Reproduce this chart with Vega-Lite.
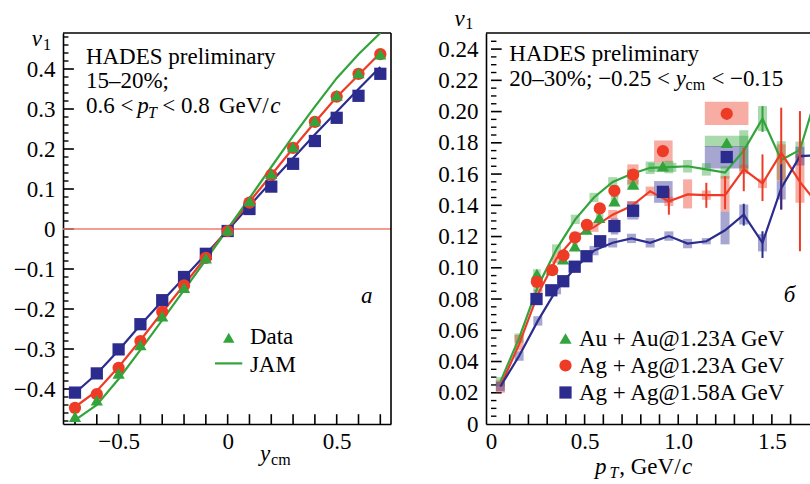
{
  "$schema": "https://vega.github.io/schema/vega-lite/v6.json",
  "background": "white",
  "padding": {"left": 13, "top": 7, "right": 0, "bottom": 0},
  "bounds": "flush",
  "spacing": 95,
  "resolve": {"scale": {"color": "independent", "shape": "independent"}, "legend": {"color": "independent", "shape": "independent"}},
  "config": {
    "view": {"stroke": null},
    "font": "Liberation Serif",
    "axis": {"labelFont": "Liberation Serif", "labelFontSize": 23, "labelColor": "#000", "domainColor": "#000", "domainWidth": 1.6, "grid": false, "labelFlush": false, "labelOverlap": false, "labelBound": false},
    "legend": {"labelFont": "Liberation Serif", "labelFontSize": 23, "labelColor": "#000"},
    "text": {"font": "Liberation Serif", "fontSize": 23, "color": "#000", "align": "left", "baseline": "alphabetic"}
  },
  "datasets": {
    "lxt": [{"v": -0.7, "a": -0.4875, "b": -0.463}, {"v": -0.6, "a": -0.4875, "b": -0.463}, {"v": -0.5, "a": -0.4875, "b": -0.463}, {"v": -0.4, "a": -0.4875, "b": -0.463}, {"v": -0.3, "a": -0.4875, "b": -0.463}, {"v": -0.2, "a": -0.4875, "b": -0.463}, {"v": -0.1, "a": -0.4875, "b": -0.463}, {"v": 0, "a": -0.4875, "b": -0.463}, {"v": 0.1, "a": -0.4875, "b": -0.463}, {"v": 0.2, "a": -0.4875, "b": -0.463}, {"v": 0.3, "a": -0.4875, "b": -0.463}, {"v": 0.4, "a": -0.4875, "b": -0.463}, {"v": 0.5, "a": -0.4875, "b": -0.463}, {"v": 0.6, "a": -0.4875, "b": -0.463}, {"v": 0.7, "a": -0.4875, "b": -0.463}],
    "lyM": [{"v": -0.4, "a": -0.755, "b": -0.705}, {"v": -0.3, "a": -0.755, "b": -0.705}, {"v": -0.2, "a": -0.755, "b": -0.705}, {"v": -0.1, "a": -0.755, "b": -0.705}, {"v": 0, "a": -0.755, "b": -0.705}, {"v": 0.1, "a": -0.755, "b": -0.705}, {"v": 0.2, "a": -0.755, "b": -0.705}, {"v": 0.3, "a": -0.755, "b": -0.705}, {"v": 0.4, "a": -0.755, "b": -0.705}],
    "lym": [{"v": -0.48, "a": -0.755, "b": -0.73}, {"v": -0.46, "a": -0.755, "b": -0.73}, {"v": -0.44, "a": -0.755, "b": -0.73}, {"v": -0.42, "a": -0.755, "b": -0.73}, {"v": -0.38, "a": -0.755, "b": -0.73}, {"v": -0.36, "a": -0.755, "b": -0.73}, {"v": -0.34, "a": -0.755, "b": -0.73}, {"v": -0.32, "a": -0.755, "b": -0.73}, {"v": -0.28, "a": -0.755, "b": -0.73}, {"v": -0.26, "a": -0.755, "b": -0.73}, {"v": -0.24, "a": -0.755, "b": -0.73}, {"v": -0.22, "a": -0.755, "b": -0.73}, {"v": -0.18, "a": -0.755, "b": -0.73}, {"v": -0.16, "a": -0.755, "b": -0.73}, {"v": -0.14, "a": -0.755, "b": -0.73}, {"v": -0.12, "a": -0.755, "b": -0.73}, {"v": -0.08, "a": -0.755, "b": -0.73}, {"v": -0.06, "a": -0.755, "b": -0.73}, {"v": -0.04, "a": -0.755, "b": -0.73}, {"v": -0.02, "a": -0.755, "b": -0.73}, {"v": 0.02, "a": -0.755, "b": -0.73}, {"v": 0.04, "a": -0.755, "b": -0.73}, {"v": 0.06, "a": -0.755, "b": -0.73}, {"v": 0.08, "a": -0.755, "b": -0.73}, {"v": 0.12, "a": -0.755, "b": -0.73}, {"v": 0.14, "a": -0.755, "b": -0.73}, {"v": 0.16, "a": -0.755, "b": -0.73}, {"v": 0.18, "a": -0.755, "b": -0.73}, {"v": 0.22, "a": -0.755, "b": -0.73}, {"v": 0.24, "a": -0.755, "b": -0.73}, {"v": 0.26, "a": -0.755, "b": -0.73}, {"v": 0.28, "a": -0.755, "b": -0.73}, {"v": 0.32, "a": -0.755, "b": -0.73}, {"v": 0.34, "a": -0.755, "b": -0.73}, {"v": 0.36, "a": -0.755, "b": -0.73}, {"v": 0.38, "a": -0.755, "b": -0.73}, {"v": 0.42, "a": -0.755, "b": -0.73}, {"v": 0.44, "a": -0.755, "b": -0.73}, {"v": 0.46, "a": -0.755, "b": -0.73}, {"v": 0.48, "a": -0.755, "b": -0.73}],
    "rxt": [{"v": 0.1, "a": 0, "b": 0.0062}, {"v": 0.2, "a": 0, "b": 0.0062}, {"v": 0.3, "a": 0, "b": 0.0062}, {"v": 0.4, "a": 0, "b": 0.0062}, {"v": 0.5, "a": 0, "b": 0.0062}, {"v": 0.6, "a": 0, "b": 0.0062}, {"v": 0.7, "a": 0, "b": 0.0062}, {"v": 0.8, "a": 0, "b": 0.0062}, {"v": 0.9, "a": 0, "b": 0.0062}, {"v": 1.0, "a": 0, "b": 0.0062}, {"v": 1.1, "a": 0, "b": 0.0062}, {"v": 1.2, "a": 0, "b": 0.0062}, {"v": 1.3, "a": 0, "b": 0.0062}, {"v": 1.4, "a": 0, "b": 0.0062}, {"v": 1.5, "a": 0, "b": 0.0062}, {"v": 1.6, "a": 0, "b": 0.0062}],
    "ryM": [{"v": 0.02, "a": 0, "b": 0.057}, {"v": 0.04, "a": 0, "b": 0.057}, {"v": 0.06, "a": 0, "b": 0.057}, {"v": 0.08, "a": 0, "b": 0.057}, {"v": 0.1, "a": 0, "b": 0.057}, {"v": 0.12, "a": 0, "b": 0.057}, {"v": 0.14, "a": 0, "b": 0.057}, {"v": 0.16, "a": 0, "b": 0.057}, {"v": 0.18, "a": 0, "b": 0.057}, {"v": 0.2, "a": 0, "b": 0.057}, {"v": 0.22, "a": 0, "b": 0.057}, {"v": 0.24, "a": 0, "b": 0.057}],
    "rym": [{"v": 0.005, "a": 0, "b": 0.029}, {"v": 0.01, "a": 0, "b": 0.029}, {"v": 0.015, "a": 0, "b": 0.029}, {"v": 0.025, "a": 0, "b": 0.029}, {"v": 0.03, "a": 0, "b": 0.029}, {"v": 0.035, "a": 0, "b": 0.029}, {"v": 0.045, "a": 0, "b": 0.029}, {"v": 0.05, "a": 0, "b": 0.029}, {"v": 0.055, "a": 0, "b": 0.029}, {"v": 0.065, "a": 0, "b": 0.029}, {"v": 0.07, "a": 0, "b": 0.029}, {"v": 0.075, "a": 0, "b": 0.029}, {"v": 0.085, "a": 0, "b": 0.029}, {"v": 0.09, "a": 0, "b": 0.029}, {"v": 0.095, "a": 0, "b": 0.029}, {"v": 0.105, "a": 0, "b": 0.029}, {"v": 0.11, "a": 0, "b": 0.029}, {"v": 0.115, "a": 0, "b": 0.029}, {"v": 0.125, "a": 0, "b": 0.029}, {"v": 0.13, "a": 0, "b": 0.029}, {"v": 0.135, "a": 0, "b": 0.029}, {"v": 0.145, "a": 0, "b": 0.029}, {"v": 0.15, "a": 0, "b": 0.029}, {"v": 0.155, "a": 0, "b": 0.029}, {"v": 0.165, "a": 0, "b": 0.029}, {"v": 0.17, "a": 0, "b": 0.029}, {"v": 0.175, "a": 0, "b": 0.029}, {"v": 0.185, "a": 0, "b": 0.029}, {"v": 0.19, "a": 0, "b": 0.029}, {"v": 0.195, "a": 0, "b": 0.029}, {"v": 0.205, "a": 0, "b": 0.029}, {"v": 0.21, "a": 0, "b": 0.029}, {"v": 0.215, "a": 0, "b": 0.029}, {"v": 0.225, "a": 0, "b": 0.029}, {"v": 0.23, "a": 0, "b": 0.029}, {"v": 0.235, "a": 0, "b": 0.029}, {"v": 0.245, "a": 0, "b": 0.029}],
    "lpts": [
      {"sys": "Ag158", "x": -0.7, "y": -0.409}, {"sys": "Ag158", "x": -0.6, "y": -0.361}, {"sys": "Ag158", "x": -0.5, "y": -0.301}, {"sys": "Ag158", "x": -0.4, "y": -0.238}, {"sys": "Ag158", "x": -0.3, "y": -0.178}, {"sys": "Ag158", "x": -0.2, "y": -0.12}, {"sys": "Ag158", "x": -0.1, "y": -0.062}, {"sys": "Ag158", "x": 0, "y": -0.005}, {"sys": "Ag158", "x": 0.1, "y": 0.05}, {"sys": "Ag158", "x": 0.2, "y": 0.106}, {"sys": "Ag158", "x": 0.3, "y": 0.163}, {"sys": "Ag158", "x": 0.4, "y": 0.22}, {"sys": "Ag158", "x": 0.5, "y": 0.278}, {"sys": "Ag158", "x": 0.6, "y": 0.333}, {"sys": "Ag158", "x": 0.7, "y": 0.388},
      {"sys": "Ag123", "x": -0.7, "y": -0.447}, {"sys": "Ag123", "x": -0.6, "y": -0.413}, {"sys": "Ag123", "x": -0.5, "y": -0.347}, {"sys": "Ag123", "x": -0.4, "y": -0.28}, {"sys": "Ag123", "x": -0.3, "y": -0.207}, {"sys": "Ag123", "x": -0.2, "y": -0.141}, {"sys": "Ag123", "x": -0.1, "y": -0.072}, {"sys": "Ag123", "x": 0, "y": -0.005}, {"sys": "Ag123", "x": 0.1, "y": 0.066}, {"sys": "Ag123", "x": 0.2, "y": 0.135}, {"sys": "Ag123", "x": 0.3, "y": 0.203}, {"sys": "Ag123", "x": 0.4, "y": 0.268}, {"sys": "Ag123", "x": 0.5, "y": 0.331}, {"sys": "Ag123", "x": 0.6, "y": 0.388}, {"sys": "Ag123", "x": 0.7, "y": 0.437},
      {"sys": "Au123", "x": -0.7, "y": -0.469}, {"sys": "Au123", "x": -0.6, "y": -0.428}, {"sys": "Au123", "x": -0.5, "y": -0.361}, {"sys": "Au123", "x": -0.4, "y": -0.29}, {"sys": "Au123", "x": -0.3, "y": -0.218}, {"sys": "Au123", "x": -0.2, "y": -0.147}, {"sys": "Au123", "x": -0.1, "y": -0.073}, {"sys": "Au123", "x": 0, "y": -0.003}, {"sys": "Au123", "x": 0.1, "y": 0.07}, {"sys": "Au123", "x": 0.2, "y": 0.138}, {"sys": "Au123", "x": 0.3, "y": 0.205}, {"sys": "Au123", "x": 0.4, "y": 0.27}, {"sys": "Au123", "x": 0.5, "y": 0.334}, {"sys": "Au123", "x": 0.6, "y": 0.39}, {"sys": "Au123", "x": 0.7, "y": 0.437}
    ],
    "ljam": [
      {"sys": "Ag158", "x": -0.7, "y": -0.41}, {"sys": "Ag158", "x": -0.6, "y": -0.362}, {"sys": "Ag158", "x": -0.5, "y": -0.303}, {"sys": "Ag158", "x": -0.4, "y": -0.24}, {"sys": "Ag158", "x": -0.3, "y": -0.18}, {"sys": "Ag158", "x": -0.2, "y": -0.122}, {"sys": "Ag158", "x": -0.1, "y": -0.063}, {"sys": "Ag158", "x": 0, "y": -0.003}, {"sys": "Ag158", "x": 0.1, "y": 0.058}, {"sys": "Ag158", "x": 0.2, "y": 0.118}, {"sys": "Ag158", "x": 0.3, "y": 0.177}, {"sys": "Ag158", "x": 0.4, "y": 0.236}, {"sys": "Ag158", "x": 0.5, "y": 0.293}, {"sys": "Ag158", "x": 0.6, "y": 0.35}, {"sys": "Ag158", "x": 0.7, "y": 0.405},
      {"sys": "Ag123", "x": -0.7, "y": -0.445}, {"sys": "Ag123", "x": -0.6, "y": -0.405}, {"sys": "Ag123", "x": -0.5, "y": -0.345}, {"sys": "Ag123", "x": -0.4, "y": -0.278}, {"sys": "Ag123", "x": -0.3, "y": -0.208}, {"sys": "Ag123", "x": -0.2, "y": -0.14}, {"sys": "Ag123", "x": -0.1, "y": -0.07}, {"sys": "Ag123", "x": 0, "y": 0}, {"sys": "Ag123", "x": 0.1, "y": 0.068}, {"sys": "Ag123", "x": 0.2, "y": 0.135}, {"sys": "Ag123", "x": 0.3, "y": 0.202}, {"sys": "Ag123", "x": 0.4, "y": 0.267}, {"sys": "Ag123", "x": 0.5, "y": 0.33}, {"sys": "Ag123", "x": 0.6, "y": 0.385}, {"sys": "Ag123", "x": 0.7, "y": 0.44},
      {"sys": "Au123", "x": -0.7, "y": -0.478}, {"sys": "Au123", "x": -0.6, "y": -0.44}, {"sys": "Au123", "x": -0.5, "y": -0.375}, {"sys": "Au123", "x": -0.4, "y": -0.302}, {"sys": "Au123", "x": -0.3, "y": -0.228}, {"sys": "Au123", "x": -0.2, "y": -0.153}, {"sys": "Au123", "x": -0.1, "y": -0.077}, {"sys": "Au123", "x": 0, "y": 0}, {"sys": "Au123", "x": 0.1, "y": 0.077}, {"sys": "Au123", "x": 0.2, "y": 0.155}, {"sys": "Au123", "x": 0.3, "y": 0.232}, {"sys": "Au123", "x": 0.4, "y": 0.306}, {"sys": "Au123", "x": 0.5, "y": 0.377}, {"sys": "Au123", "x": 0.6, "y": 0.437}, {"sys": "Au123", "x": 0.7, "y": 0.49}
    ],
    "rpts": [
      {"sys": "Au123", "x": 0.245, "y": 0.096, "x0": 0.225, "x1": 0.265, "lo": 0.093, "hi": 0.099},
      {"sys": "Au123", "x": 0.325, "y": 0.099, "x0": 0.31, "x1": 0.34, "lo": 0.096, "hi": 0.102},
      {"sys": "Au123", "x": 0.385, "y": 0.1055, "x0": 0.37, "x1": 0.4, "lo": 0.1025, "hi": 0.1085},
      {"sys": "Au123", "x": 0.448, "y": 0.1138, "x0": 0.433, "x1": 0.463, "lo": 0.111, "hi": 0.117},
      {"sys": "Au123", "x": 0.51, "y": 0.1245, "x0": 0.495, "x1": 0.525, "lo": 0.1215, "hi": 0.1275},
      {"sys": "Au123", "x": 0.578, "y": 0.132, "x0": 0.56, "x1": 0.6, "lo": 0.129, "hi": 0.135},
      {"sys": "Au123", "x": 0.659, "y": 0.1427, "x0": 0.64, "x1": 0.68, "lo": 0.1395, "hi": 0.146},
      {"sys": "Au123", "x": 0.759, "y": 0.1534, "x0": 0.728, "x1": 0.788, "lo": 0.1505, "hi": 0.1565},
      {"sys": "Au123", "x": 0.918, "y": 0.1651, "x0": 0.84, "x1": 0.99, "lo": 0.1614, "hi": 0.1672},
      {"sys": "Au123", "x": 1.259, "y": 0.18, "x0": 1.142, "x1": 1.375, "lo": 0.1775, "hi": 0.1845},
      {"sys": "Ag158", "x": 0.243, "y": 0.08, "x0": 0.225, "x1": 0.265, "lo": 0.077, "hi": 0.083},
      {"sys": "Ag158", "x": 0.322, "y": 0.0856, "x0": 0.307, "x1": 0.337, "lo": 0.0826, "hi": 0.0886},
      {"sys": "Ag158", "x": 0.386, "y": 0.0914, "x0": 0.371, "x1": 0.401, "lo": 0.0884, "hi": 0.0944},
      {"sys": "Ag158", "x": 0.447, "y": 0.1007, "x0": 0.432, "x1": 0.462, "lo": 0.0977, "hi": 0.1037},
      {"sys": "Ag158", "x": 0.51, "y": 0.1074, "x0": 0.495, "x1": 0.525, "lo": 0.1044, "hi": 0.1104},
      {"sys": "Ag158", "x": 0.583, "y": 0.117, "x0": 0.565, "x1": 0.6, "lo": 0.114, "hi": 0.12},
      {"sys": "Ag158", "x": 0.659, "y": 0.1267, "x0": 0.64, "x1": 0.68, "lo": 0.1213, "hi": 0.1316},
      {"sys": "Ag158", "x": 0.759, "y": 0.1365, "x0": 0.728, "x1": 0.788, "lo": 0.1309, "hi": 0.1426},
      {"sys": "Ag158", "x": 0.918, "y": 0.1486, "x0": 0.871, "x1": 0.97, "lo": 0.1416, "hi": 0.1555},
      {"sys": "Ag158", "x": 1.259, "y": 0.1709, "x0": 1.142, "x1": 1.375, "lo": 0.1636, "hi": 0.1779},
      {"sys": "Ag123", "x": 0.245, "y": 0.091, "x0": 0.225, "x1": 0.265, "lo": 0.088, "hi": 0.094},
      {"sys": "Ag123", "x": 0.327, "y": 0.0985, "x0": 0.312, "x1": 0.342, "lo": 0.0955, "hi": 0.1015},
      {"sys": "Ag123", "x": 0.387, "y": 0.108, "x0": 0.372, "x1": 0.402, "lo": 0.105, "hi": 0.111},
      {"sys": "Ag123", "x": 0.449, "y": 0.1194, "x0": 0.434, "x1": 0.464, "lo": 0.1164, "hi": 0.1224},
      {"sys": "Ag123", "x": 0.512, "y": 0.1275, "x0": 0.497, "x1": 0.527, "lo": 0.1245, "hi": 0.1305},
      {"sys": "Ag123", "x": 0.581, "y": 0.138, "x0": 0.563, "x1": 0.6, "lo": 0.135, "hi": 0.141},
      {"sys": "Ag123", "x": 0.659, "y": 0.1493, "x0": 0.64, "x1": 0.68, "lo": 0.1455, "hi": 0.153},
      {"sys": "Ag123", "x": 0.759, "y": 0.1596, "x0": 0.728, "x1": 0.788, "lo": 0.1534, "hi": 0.1662},
      {"sys": "Ag123", "x": 0.918, "y": 0.1747, "x0": 0.871, "x1": 0.97, "lo": 0.1672, "hi": 0.1815},
      {"sys": "Ag123", "x": 1.259, "y": 0.1986, "x0": 1.142, "x1": 1.375, "lo": 0.1914, "hi": 0.2063}
    ],
    "rjam": [
      {"sys": "Au123", "x": 0.05, "y": 0.027, "lo": 0.024, "hi": 0.03}, {"sys": "Au123", "x": 0.15, "y": 0.055, "lo": 0.052, "hi": 0.058}, {"sys": "Au123", "x": 0.25, "y": 0.088, "lo": 0.085, "hi": 0.091}, {"sys": "Au123", "x": 0.35, "y": 0.112, "lo": 0.109, "hi": 0.115}, {"sys": "Au123", "x": 0.45, "y": 0.131, "lo": 0.128, "hi": 0.134}, {"sys": "Au123", "x": 0.55, "y": 0.145, "lo": 0.142, "hi": 0.148}, {"sys": "Au123", "x": 0.65, "y": 0.155, "lo": 0.152, "hi": 0.158}, {"sys": "Au123", "x": 0.75, "y": 0.16, "lo": 0.157, "hi": 0.163}, {"sys": "Au123", "x": 0.85, "y": 0.164, "lo": 0.16, "hi": 0.168}, {"sys": "Au123", "x": 0.95, "y": 0.1645, "lo": 0.1605, "hi": 0.1685}, {"sys": "Au123", "x": 1.05, "y": 0.165, "lo": 0.161, "hi": 0.169}, {"sys": "Au123", "x": 1.15, "y": 0.163, "lo": 0.159, "hi": 0.167}, {"sys": "Au123", "x": 1.25, "y": 0.161, "lo": 0.157, "hi": 0.165}, {"sys": "Au123", "x": 1.35, "y": 0.175, "lo": 0.162, "hi": 0.188}, {"sys": "Au123", "x": 1.45, "y": 0.1955, "lo": 0.1875, "hi": 0.2035}, {"sys": "Au123", "x": 1.55, "y": 0.169, "lo": 0.156, "hi": 0.181}, {"sys": "Au123", "x": 1.65, "y": 0.1755, "lo": 0.1702, "hi": 0.1808}, {"sys": "Au123", "x": 1.75, "y": 0.215, "lo": 0.205, "hi": 0.225},
      {"sys": "Ag123", "x": 0.05, "y": 0.024, "lo": 0.02, "hi": 0.028}, {"sys": "Ag123", "x": 0.15, "y": 0.051, "lo": 0.047, "hi": 0.057}, {"sys": "Ag123", "x": 0.25, "y": 0.083, "lo": 0.08, "hi": 0.086}, {"sys": "Ag123", "x": 0.35, "y": 0.106, "lo": 0.103, "hi": 0.109}, {"sys": "Ag123", "x": 0.45, "y": 0.12, "lo": 0.117, "hi": 0.123}, {"sys": "Ag123", "x": 0.55, "y": 0.126, "lo": 0.123, "hi": 0.129}, {"sys": "Ag123", "x": 0.65, "y": 0.134, "lo": 0.131, "hi": 0.137}, {"sys": "Ag123", "x": 0.75, "y": 0.1395, "lo": 0.1365, "hi": 0.1425}, {"sys": "Ag123", "x": 0.85, "y": 0.149, "lo": 0.146, "hi": 0.152}, {"sys": "Ag123", "x": 0.95, "y": 0.1425, "lo": 0.1395, "hi": 0.1455}, {"sys": "Ag123", "x": 1.05, "y": 0.147, "lo": 0.138, "hi": 0.1566}, {"sys": "Ag123", "x": 1.15, "y": 0.1465, "lo": 0.1435, "hi": 0.1495}, {"sys": "Ag123", "x": 1.25, "y": 0.1465, "lo": 0.136, "hi": 0.1587}, {"sys": "Ag123", "x": 1.35, "y": 0.163, "lo": 0.16, "hi": 0.166}, {"sys": "Ag123", "x": 1.45, "y": 0.154, "lo": 0.151, "hi": 0.157}, {"sys": "Ag123", "x": 1.55, "y": 0.1736, "lo": 0.1555, "hi": 0.179}, {"sys": "Ag123", "x": 1.65, "y": 0.155, "lo": 0.1416, "hi": 0.1726}, {"sys": "Ag123", "x": 1.75, "y": 0.14, "lo": 0.13, "hi": 0.15},
      {"sys": "Ag158", "x": 0.05, "y": 0.024, "lo": 0.021, "hi": 0.027}, {"sys": "Ag158", "x": 0.15, "y": 0.0435, "lo": 0.0405, "hi": 0.0465}, {"sys": "Ag158", "x": 0.25, "y": 0.066, "lo": 0.063, "hi": 0.069}, {"sys": "Ag158", "x": 0.35, "y": 0.086, "lo": 0.083, "hi": 0.089}, {"sys": "Ag158", "x": 0.45, "y": 0.1, "lo": 0.097, "hi": 0.103}, {"sys": "Ag158", "x": 0.55, "y": 0.111, "lo": 0.108, "hi": 0.114}, {"sys": "Ag158", "x": 0.65, "y": 0.116, "lo": 0.113, "hi": 0.119}, {"sys": "Ag158", "x": 0.75, "y": 0.1188, "lo": 0.1158, "hi": 0.1218}, {"sys": "Ag158", "x": 0.85, "y": 0.116, "lo": 0.113, "hi": 0.119}, {"sys": "Ag158", "x": 0.95, "y": 0.1203, "lo": 0.1173, "hi": 0.1233}, {"sys": "Ag158", "x": 1.05, "y": 0.1155, "lo": 0.1125, "hi": 0.1185}, {"sys": "Ag158", "x": 1.15, "y": 0.117, "lo": 0.115, "hi": 0.119}, {"sys": "Ag158", "x": 1.25, "y": 0.124, "lo": 0.115, "hi": 0.136}, {"sys": "Ag158", "x": 1.35, "y": 0.134, "lo": 0.1277, "hi": 0.1405}, {"sys": "Ag158", "x": 1.45, "y": 0.116, "lo": 0.1105, "hi": 0.1215}, {"sys": "Ag158", "x": 1.55, "y": 0.151, "lo": 0.1437, "hi": 0.1555}, {"sys": "Ag158", "x": 1.65, "y": 0.1715, "lo": 0.1655, "hi": 0.1775}, {"sys": "Ag158", "x": 1.75, "y": 0.172, "lo": 0.166, "hi": 0.178}
    ],
    "rerr": [
      {"sys": "Au123", "x": 1.45, "lo": 0.187, "hi": 0.2035},
      {"sys": "Ag123", "x": 0.95, "lo": 0.134, "hi": 0.151},
      {"sys": "Ag123", "x": 1.15, "lo": 0.1384, "hi": 0.1544},
      {"sys": "Ag123", "x": 1.25, "lo": 0.1375, "hi": 0.1587},
      {"sys": "Ag123", "x": 1.35, "lo": 0.149, "hi": 0.1768},
      {"sys": "Ag123", "x": 1.45, "lo": 0.1427, "hi": 0.1726},
      {"sys": "Ag123", "x": 1.55, "lo": 0.1373, "hi": 0.2025},
      {"sys": "Ag123", "x": 1.65, "lo": 0.1106, "hi": 0.2003},
      {"sys": "Ag158", "x": 1.35, "lo": 0.127, "hi": 0.141},
      {"sys": "Ag158", "x": 1.45, "lo": 0.1063, "hi": 0.1234},
      {"sys": "Ag158", "x": 1.55, "lo": 0.1373, "hi": 0.1662}
    ]
  },
  "hconcat": [
    {
      "width": 328,
      "height": 391,
      "resolve": {"axis": {"x": "independent", "y": "independent"}},
      "layer": [
        {
          "data": {"name": "lpts"},
          "mark": {"type": "point", "opacity": 0},
          "encoding": {
            "x": {"field": "x", "type": "quantitative", "scale": {"domain": [-0.755, 0.749], "nice": false, "zero": false},
              "axis": {"orient": "bottom", "title": null, "values": [-0.5, 0, 0.5], "labelExpr": "datum.value == 0 ? '0' : format(datum.value, '.1f')", "ticks": false, "tickSize": 0, "labelPadding": 6, "domain": true, "labelOverlap": false}},
            "y": {"field": "y", "type": "quantitative", "scale": {"domain": [-0.4875, 0.49], "nice": false, "zero": false},
              "axis": {"orient": "left", "title": null, "values": [-0.4, -0.3, -0.2, -0.1, 0, 0.1, 0.2, 0.3, 0.4], "labelExpr": "datum.value == 0 ? '0' : format(datum.value, '.1f')", "ticks": false, "tickSize": 0, "labelPadding": 8, "domain": true, "labelOverlap": false}}
          }
        },
        {
          "data": {"name": "lxt"},
          "mark": {"type": "rule", "color": "#000", "strokeWidth": 1.6},
          "encoding": {
            "x": {"field": "v", "type": "quantitative", "scale": {"domain": [-0.755, 0.749], "nice": false, "zero": false}, "axis": null},
            "y": {"field": "a", "type": "quantitative", "scale": {"domain": [-0.4875, 0.49], "nice": false, "zero": false}, "axis": null},
            "y2": {"field": "b"}
          }
        },
        {
          "data": {"name": "lyM"},
          "mark": {"type": "rule", "color": "#000", "strokeWidth": 1.6},
          "encoding": {
            "x": {"field": "a", "type": "quantitative", "scale": {"domain": [-0.755, 0.749], "nice": false, "zero": false}, "axis": null},
            "x2": {"field": "b"},
            "y": {"field": "v", "type": "quantitative", "scale": {"domain": [-0.4875, 0.49], "nice": false, "zero": false}, "axis": null}
          }
        },
        {
          "data": {"name": "lym"},
          "mark": {"type": "rule", "color": "#000", "strokeWidth": 1.4},
          "encoding": {
            "x": {"field": "a", "type": "quantitative", "scale": {"domain": [-0.755, 0.749], "nice": false, "zero": false}, "axis": null},
            "x2": {"field": "b"},
            "y": {"field": "v", "type": "quantitative", "scale": {"domain": [-0.4875, 0.49], "nice": false, "zero": false}, "axis": null}
          }
        },
        {
          "data": {"values": [{}]},
          "mark": {"type": "rule", "color": "#f27b6e", "strokeWidth": 1.6},
          "encoding": {"y": {"datum": 0, "type": "quantitative", "scale": {"domain": [-0.4875, 0.49], "nice": false, "zero": false}, "axis": null}}
        },
        {
          "data": {"values": [{}]},
          "mark": {"type": "rule", "color": "#000", "strokeWidth": 1.6},
          "encoding": {"y": {"datum": 0.49, "type": "quantitative", "scale": {"domain": [-0.4875, 0.49], "nice": false, "zero": false}, "axis": null}}
        },
        {
          "data": {"values": [{}]},
          "mark": {"type": "rule", "color": "#000", "strokeWidth": 1.6},
          "encoding": {"x": {"datum": 0.749, "type": "quantitative", "scale": {"domain": [-0.755, 0.749], "nice": false, "zero": false}, "axis": null}}
        },
        {
          "data": {"name": "ljam"},
          "mark": {"type": "line", "strokeWidth": 2.2, "clip": true},
          "encoding": {
            "x": {"field": "x", "type": "quantitative", "scale": {"domain": [-0.755, 0.749], "nice": false, "zero": false}, "axis": null},
            "y": {"field": "y", "type": "quantitative", "scale": {"domain": [-0.4875, 0.49], "nice": false, "zero": false}, "axis": null},
            "color": {"field": "sys", "type": "nominal", "scale": {"domain": ["Au123", "Ag123", "Ag158"], "range": ["#33a43c", "#ee3b26", "#2b2c8e"]}, "legend": null},
            "detail": {"field": "sys"}
          }
        },
        {
          "data": {"name": "lpts"},
          "mark": {"type": "point", "filled": true, "opacity": 1, "size": 150, "clip": true},
          "encoding": {
            "x": {"field": "x", "type": "quantitative", "scale": {"domain": [-0.755, 0.749], "nice": false, "zero": false}, "axis": null},
            "y": {"field": "y", "type": "quantitative", "scale": {"domain": [-0.4875, 0.49], "nice": false, "zero": false}, "axis": null},
            "color": {"field": "sys", "type": "nominal", "scale": {"domain": ["Au123", "Ag123", "Ag158"], "range": ["#33a43c", "#ee3b26", "#2b2c8e"]}, "legend": null},
            "shape": {"field": "sys", "type": "nominal", "scale": {"domain": ["Au123", "Ag123", "Ag158"], "range": ["triangle-up", "circle", "square"]}, "legend": null}
          }
        },
        {"data": {"values": [{}]}, "mark": {"type": "point", "shape": "triangle-up", "filled": true, "opacity": 1, "size": 130, "color": "#33a43c"},
          "encoding": {"x": {"datum": 0.005, "type": "quantitative", "scale": {"domain": [-0.755, 0.749], "nice": false, "zero": false}, "axis": null}, "y": {"datum": -0.272, "type": "quantitative", "scale": {"domain": [-0.4875, 0.49], "nice": false, "zero": false}, "axis": null}}},
        {"data": {"values": [{}]}, "mark": {"type": "rule", "color": "#33a43c", "strokeWidth": 2.2},
          "encoding": {"x": {"datum": -0.058, "type": "quantitative", "scale": {"domain": [-0.755, 0.749], "nice": false, "zero": false}, "axis": null}, "x2": {"datum": 0.067}, "y": {"datum": -0.336, "type": "quantitative", "scale": {"domain": [-0.4875, 0.49], "nice": false, "zero": false}, "axis": null}}},
        {"data": {"values": [{}]}, "mark": {"type": "text"},
          "encoding": {"x": {"datum": 0.102, "type": "quantitative", "scale": {"domain": [-0.755, 0.749], "nice": false, "zero": false}, "axis": null}, "y": {"datum": -0.288, "type": "quantitative", "scale": {"domain": [-0.4875, 0.49], "nice": false, "zero": false}, "axis": null}, "text": {"value": "Data"}}},
        {"data": {"values": [{}]}, "mark": {"type": "text"},
          "encoding": {"x": {"datum": 0.102, "type": "quantitative", "scale": {"domain": [-0.755, 0.749], "nice": false, "zero": false}, "axis": null}, "y": {"datum": -0.357, "type": "quantitative", "scale": {"domain": [-0.4875, 0.49], "nice": false, "zero": false}, "axis": null}, "text": {"value": "JAM"}}},
        {"data": {"values": [{}]}, "mark": {"type": "text"},
          "encoding": {"x": {"datum": -0.65, "type": "quantitative", "scale": {"domain": [-0.755, 0.749], "nice": false, "zero": false}, "axis": null}, "y": {"datum": 0.413, "type": "quantitative", "scale": {"domain": [-0.4875, 0.49], "nice": false, "zero": false}, "axis": null}, "text": {"value": "HADES preliminary"}}},
        {"data": {"values": [{}]}, "mark": {"type": "text"},
          "encoding": {"x": {"datum": -0.65, "type": "quantitative", "scale": {"domain": [-0.755, 0.749], "nice": false, "zero": false}, "axis": null}, "y": {"datum": 0.352, "type": "quantitative", "scale": {"domain": [-0.4875, 0.49], "nice": false, "zero": false}, "axis": null}, "text": {"value": "15–20%;"}}},
        {"data": {"values": [{}]}, "mark": {"type": "text"},
          "encoding": {"x": {"datum": -0.65, "type": "quantitative", "scale": {"domain": [-0.755, 0.749], "nice": false, "zero": false}, "axis": null}, "y": {"datum": 0.2908, "type": "quantitative", "scale": {"domain": [-0.4875, 0.49], "nice": false, "zero": false}, "axis": null}, "text": {"value": "0.6 <"}}},
        {"data": {"values": [{}]}, "mark": {"type": "text", "fontStyle": "italic"},
          "encoding": {"x": {"datum": -0.415, "type": "quantitative", "scale": {"domain": [-0.755, 0.749], "nice": false, "zero": false}, "axis": null}, "y": {"datum": 0.2908, "type": "quantitative", "scale": {"domain": [-0.4875, 0.49], "nice": false, "zero": false}, "axis": null}, "text": {"value": "p"}}},
        {"data": {"values": [{}]}, "mark": {"type": "text", "fontStyle": "italic", "fontSize": 16},
          "encoding": {"x": {"datum": -0.365, "type": "quantitative", "scale": {"domain": [-0.755, 0.749], "nice": false, "zero": false}, "axis": null}, "y": {"datum": 0.278, "type": "quantitative", "scale": {"domain": [-0.4875, 0.49], "nice": false, "zero": false}, "axis": null}, "text": {"value": "T"}}},
        {"data": {"values": [{}]}, "mark": {"type": "text"},
          "encoding": {"x": {"datum": -0.3, "type": "quantitative", "scale": {"domain": [-0.755, 0.749], "nice": false, "zero": false}, "axis": null}, "y": {"datum": 0.2908, "type": "quantitative", "scale": {"domain": [-0.4875, 0.49], "nice": false, "zero": false}, "axis": null}, "text": {"value": "< 0.8"}}},
        {"data": {"values": [{}]}, "mark": {"type": "text"},
          "encoding": {"x": {"datum": -0.04, "type": "quantitative", "scale": {"domain": [-0.755, 0.749], "nice": false, "zero": false}, "axis": null}, "y": {"datum": 0.2908, "type": "quantitative", "scale": {"domain": [-0.4875, 0.49], "nice": false, "zero": false}, "axis": null}, "text": {"value": "GeV/"}}},
        {"data": {"values": [{}]}, "mark": {"type": "text", "fontStyle": "italic"},
          "encoding": {"x": {"datum": 0.195, "type": "quantitative", "scale": {"domain": [-0.755, 0.749], "nice": false, "zero": false}, "axis": null}, "y": {"datum": 0.2908, "type": "quantitative", "scale": {"domain": [-0.4875, 0.49], "nice": false, "zero": false}, "axis": null}, "text": {"value": "c"}}},
        {"data": {"values": [{}]}, "mark": {"type": "text", "fontStyle": "italic"},
          "encoding": {"x": {"datum": 0.611, "type": "quantitative", "scale": {"domain": [-0.755, 0.749], "nice": false, "zero": false}, "axis": null}, "y": {"datum": -0.184, "type": "quantitative", "scale": {"domain": [-0.4875, 0.49], "nice": false, "zero": false}, "axis": null}, "text": {"value": "а"}}},
        {"data": {"values": [{}]}, "mark": {"type": "text", "fontStyle": "italic"},
          "encoding": {"x": {"datum": -0.898, "type": "quantitative", "scale": {"domain": [-0.755, 0.749], "nice": false, "zero": false}, "axis": null}, "y": {"datum": 0.4575, "type": "quantitative", "scale": {"domain": [-0.4875, 0.49], "nice": false, "zero": false}, "axis": null}, "text": {"value": "v"}}},
        {"data": {"values": [{}]}, "mark": {"type": "text", "fontSize": 16},
          "encoding": {"x": {"datum": -0.847, "type": "quantitative", "scale": {"domain": [-0.755, 0.749], "nice": false, "zero": false}, "axis": null}, "y": {"datum": 0.4475, "type": "quantitative", "scale": {"domain": [-0.4875, 0.49], "nice": false, "zero": false}, "axis": null}, "text": {"value": "1"}}},
        {"data": {"values": [{}]}, "mark": {"type": "text", "fontStyle": "italic"},
          "encoding": {"x": {"datum": 0.148, "type": "quantitative", "scale": {"domain": [-0.755, 0.749], "nice": false, "zero": false}, "axis": null}, "y": {"datum": -0.58, "type": "quantitative", "scale": {"domain": [-0.4875, 0.49], "nice": false, "zero": false}, "axis": null}, "text": {"value": "y"}}},
        {"data": {"values": [{}]}, "mark": {"type": "text", "fontSize": 16},
          "encoding": {"x": {"datum": 0.199, "type": "quantitative", "scale": {"domain": [-0.755, 0.749], "nice": false, "zero": false}, "axis": null}, "y": {"datum": -0.59, "type": "quantitative", "scale": {"domain": [-0.4875, 0.49], "nice": false, "zero": false}, "axis": null}, "text": {"value": "cm"}}}
      ]
    },
    {
      "width": 324,
      "height": 391,
      "resolve": {"axis": {"x": "independent", "y": "independent"}},
      "layer": [
        {
          "data": {"name": "rpts"},
          "mark": {"type": "point", "filled": true, "opacity": 0, "size": 150},
          "encoding": {
            "x": {"field": "x", "type": "quantitative", "scale": {"domain": [0, 1.677], "nice": false, "zero": false},
              "axis": {"orient": "bottom", "title": null, "values": [0, 0.5, 1.0, 1.5], "labelExpr": "datum.value == 0 ? '0' : format(datum.value, '.1f')", "ticks": false, "tickSize": 0, "labelPadding": 6, "domain": true, "labelOverlap": false}},
            "y": {"field": "y", "type": "quantitative", "scale": {"domain": [0, 0.2503], "nice": false, "zero": false},
              "axis": {"orient": "left", "title": null, "values": [0, 0.02, 0.04, 0.06, 0.08, 0.1, 0.12, 0.14, 0.16, 0.18, 0.2, 0.22, 0.24], "labelExpr": "datum.value == 0 ? '0' : format(datum.value, '.2f')", "ticks": false, "tickSize": 0, "labelPadding": 8, "domain": true, "labelOverlap": false}},
            "color": {"field": "sys", "type": "nominal", "scale": {"domain": ["Au123", "Ag123", "Ag158"], "range": ["#33a43c", "#ee3b26", "#2b2c8e"]},
              "legend": {"orient": "none", "legendX": 68, "legendY": 294, "title": null, "labelLimit": 400, "labelExpr": "datum.label == 'Au123' ? 'Au + Au@1.23A GeV' : (datum.label == 'Ag123' ? 'Ag + Ag@1.23A GeV' : 'Ag + Ag@1.58A GeV')", "symbolSize": 150, "symbolOpacity": 1, "labelOffset": 2, "rowPadding": 3, "symbolStrokeWidth": 0, "encode": {"symbols": {"update": {"opacity": {"value": 1}, "fillOpacity": {"value": 1}}}}}},
            "shape": {"field": "sys", "type": "nominal", "scale": {"domain": ["Au123", "Ag123", "Ag158"], "range": ["triangle-up", "circle", "square"]},
              "legend": {"orient": "none", "legendX": 68, "legendY": 294, "title": null, "labelLimit": 400, "labelExpr": "datum.label == 'Au123' ? 'Au + Au@1.23A GeV' : (datum.label == 'Ag123' ? 'Ag + Ag@1.23A GeV' : 'Ag + Ag@1.58A GeV')", "symbolSize": 150, "symbolOpacity": 1, "labelOffset": 2, "rowPadding": 3, "symbolStrokeWidth": 0, "encode": {"symbols": {"update": {"opacity": {"value": 1}, "fillOpacity": {"value": 1}}}}}}
          }
        },
        {
          "data": {"name": "rxt"},
          "mark": {"type": "rule", "color": "#000", "strokeWidth": 1.6},
          "encoding": {
            "x": {"field": "v", "type": "quantitative", "scale": {"domain": [0, 1.677], "nice": false, "zero": false}, "axis": null},
            "y": {"field": "a", "type": "quantitative", "scale": {"domain": [0, 0.2503], "nice": false, "zero": false}, "axis": null},
            "y2": {"field": "b"}
          }
        },
        {
          "data": {"name": "ryM"},
          "mark": {"type": "rule", "color": "#000", "strokeWidth": 1.6},
          "encoding": {
            "x": {"field": "a", "type": "quantitative", "scale": {"domain": [0, 1.677], "nice": false, "zero": false}, "axis": null},
            "x2": {"field": "b"},
            "y": {"field": "v", "type": "quantitative", "scale": {"domain": [0, 0.2503], "nice": false, "zero": false}, "axis": null}
          }
        },
        {
          "data": {"name": "rym"},
          "mark": {"type": "rule", "color": "#000", "strokeWidth": 1.4},
          "encoding": {
            "x": {"field": "a", "type": "quantitative", "scale": {"domain": [0, 1.677], "nice": false, "zero": false}, "axis": null},
            "x2": {"field": "b"},
            "y": {"field": "v", "type": "quantitative", "scale": {"domain": [0, 0.2503], "nice": false, "zero": false}, "axis": null}
          }
        },
        {
          "data": {"values": [{}]},
          "mark": {"type": "rule", "color": "#000", "strokeWidth": 1.6},
          "encoding": {"y": {"datum": 0.2503, "type": "quantitative", "scale": {"domain": [0, 0.2503], "nice": false, "zero": false}, "axis": null}}
        },
        {
          "data": {"name": "rpts"},
          "mark": {"type": "rect", "opacity": 0.42, "clip": true},
          "encoding": {
            "x": {"field": "x0", "type": "quantitative", "scale": {"domain": [0, 1.677], "nice": false, "zero": false}, "axis": null},
            "x2": {"field": "x1"},
            "y": {"field": "lo", "type": "quantitative", "scale": {"domain": [0, 0.2503], "nice": false, "zero": false}, "axis": null},
            "y2": {"field": "hi"},
            "color": {"field": "sys", "type": "nominal", "scale": {"domain": ["Au123", "Ag123", "Ag158"], "range": ["#33a43c", "#ee3b26", "#2b2c8e"]}}
          }
        },
        {
          "data": {"name": "rjam"},
          "mark": {"type": "bar", "opacity": 0.42, "width": 9, "clip": true},
          "encoding": {
            "x": {"field": "x", "type": "quantitative", "scale": {"domain": [0, 1.677], "nice": false, "zero": false}, "axis": null},
            "y": {"field": "lo", "type": "quantitative", "scale": {"domain": [0, 0.2503], "nice": false, "zero": false}, "axis": null},
            "y2": {"field": "hi"},
            "color": {"field": "sys", "type": "nominal", "scale": {"domain": ["Au123", "Ag123", "Ag158"], "range": ["#33a43c", "#ee3b26", "#2b2c8e"]}}
          }
        },
        {
          "data": {"name": "rjam"},
          "mark": {"type": "line", "strokeWidth": 2.2, "clip": true},
          "encoding": {
            "x": {"field": "x", "type": "quantitative", "scale": {"domain": [0, 1.677], "nice": false, "zero": false}, "axis": null},
            "y": {"field": "y", "type": "quantitative", "scale": {"domain": [0, 0.2503], "nice": false, "zero": false}, "axis": null},
            "color": {"field": "sys", "type": "nominal", "scale": {"domain": ["Au123", "Ag123", "Ag158"], "range": ["#33a43c", "#ee3b26", "#2b2c8e"]}},
            "detail": {"field": "sys"}
          }
        },
        {
          "data": {"name": "rerr"},
          "mark": {"type": "rule", "strokeWidth": 2, "clip": true},
          "encoding": {
            "x": {"field": "x", "type": "quantitative", "scale": {"domain": [0, 1.677], "nice": false, "zero": false}, "axis": null},
            "y": {"field": "lo", "type": "quantitative", "scale": {"domain": [0, 0.2503], "nice": false, "zero": false}, "axis": null},
            "y2": {"field": "hi"},
            "color": {"field": "sys", "type": "nominal", "scale": {"domain": ["Au123", "Ag123", "Ag158"], "range": ["#33a43c", "#ee3b26", "#2b2c8e"]}}
          }
        },
        {
          "data": {"name": "rpts"},
          "mark": {"type": "point", "filled": true, "opacity": 1, "size": 150, "clip": true},
          "encoding": {
            "x": {"field": "x", "type": "quantitative", "scale": {"domain": [0, 1.677], "nice": false, "zero": false}, "axis": null},
            "y": {"field": "y", "type": "quantitative", "scale": {"domain": [0, 0.2503], "nice": false, "zero": false}, "axis": null},
            "color": {"field": "sys", "type": "nominal", "scale": {"domain": ["Au123", "Ag123", "Ag158"], "range": ["#33a43c", "#ee3b26", "#2b2c8e"]}},
            "shape": {"field": "sys", "type": "nominal", "scale": {"domain": ["Au123", "Ag123", "Ag158"], "range": ["triangle-up", "circle", "square"]}}
          }
        },
        {"data": {"values": [{}]}, "mark": {"type": "text"},
          "encoding": {"x": {"datum": 0.098, "type": "quantitative", "scale": {"domain": [0, 1.677], "nice": false, "zero": false}, "axis": null}, "y": {"datum": 0.2324, "type": "quantitative", "scale": {"domain": [0, 0.2503], "nice": false, "zero": false}, "axis": null}, "text": {"value": "HADES preliminary"}}},
        {"data": {"values": [{}]}, "mark": {"type": "text"},
          "encoding": {"x": {"datum": 0.098, "type": "quantitative", "scale": {"domain": [0, 1.677], "nice": false, "zero": false}, "axis": null}, "y": {"datum": 0.2163, "type": "quantitative", "scale": {"domain": [0, 0.2503], "nice": false, "zero": false}, "axis": null}, "text": {"value": "20–30%; −0.25 <"}}},
        {"data": {"values": [{}]}, "mark": {"type": "text", "fontStyle": "italic"},
          "encoding": {"x": {"datum": 0.987, "type": "quantitative", "scale": {"domain": [0, 1.677], "nice": false, "zero": false}, "axis": null}, "y": {"datum": 0.2163, "type": "quantitative", "scale": {"domain": [0, 0.2503], "nice": false, "zero": false}, "axis": null}, "text": {"value": "y"}}},
        {"data": {"values": [{}]}, "mark": {"type": "text", "fontSize": 16},
          "encoding": {"x": {"datum": 1.039, "type": "quantitative", "scale": {"domain": [0, 1.677], "nice": false, "zero": false}, "axis": null}, "y": {"datum": 0.2136, "type": "quantitative", "scale": {"domain": [0, 0.2503], "nice": false, "zero": false}, "axis": null}, "text": {"value": "cm"}}},
        {"data": {"values": [{}]}, "mark": {"type": "text"},
          "encoding": {"x": {"datum": 1.177, "type": "quantitative", "scale": {"domain": [0, 1.677], "nice": false, "zero": false}, "axis": null}, "y": {"datum": 0.2163, "type": "quantitative", "scale": {"domain": [0, 0.2503], "nice": false, "zero": false}, "axis": null}, "text": {"value": "< −0.15"}}},
        {"data": {"values": [{}]}, "mark": {"type": "text", "fontStyle": "italic"},
          "encoding": {"x": {"datum": 1.563, "type": "quantitative", "scale": {"domain": [0, 1.677], "nice": false, "zero": false}, "axis": null}, "y": {"datum": 0.078, "type": "quantitative", "scale": {"domain": [0, 0.2503], "nice": false, "zero": false}, "axis": null}, "text": {"value": "б"}}},
        {"data": {"values": [{}]}, "mark": {"type": "text", "fontStyle": "italic"},
          "encoding": {"x": {"datum": -0.195, "type": "quantitative", "scale": {"domain": [0, 1.677], "nice": false, "zero": false}, "axis": null}, "y": {"datum": 0.2548, "type": "quantitative", "scale": {"domain": [0, 0.2503], "nice": false, "zero": false}, "axis": null}, "text": {"value": "v"}}},
        {"data": {"values": [{}]}, "mark": {"type": "text", "fontSize": 16},
          "encoding": {"x": {"datum": -0.138, "type": "quantitative", "scale": {"domain": [0, 1.677], "nice": false, "zero": false}, "axis": null}, "y": {"datum": 0.2527, "type": "quantitative", "scale": {"domain": [0, 0.2503], "nice": false, "zero": false}, "axis": null}, "text": {"value": "1"}}},
        {"data": {"values": [{}]}, "mark": {"type": "text", "fontStyle": "italic"},
          "encoding": {"x": {"datum": 0.555, "type": "quantitative", "scale": {"domain": [0, 1.677], "nice": false, "zero": false}, "axis": null}, "y": {"datum": -0.0322, "type": "quantitative", "scale": {"domain": [0, 0.2503], "nice": false, "zero": false}, "axis": null}, "text": {"value": "p"}}},
        {"data": {"values": [{}]}, "mark": {"type": "text", "fontStyle": "italic", "fontSize": 16},
          "encoding": {"x": {"datum": 0.633, "type": "quantitative", "scale": {"domain": [0, 1.677], "nice": false, "zero": false}, "axis": null}, "y": {"datum": -0.0348, "type": "quantitative", "scale": {"domain": [0, 0.2503], "nice": false, "zero": false}, "axis": null}, "text": {"value": "T"}}},
        {"data": {"values": [{}]}, "mark": {"type": "text"},
          "encoding": {"x": {"datum": 0.685, "type": "quantitative", "scale": {"domain": [0, 1.677], "nice": false, "zero": false}, "axis": null}, "y": {"datum": -0.0322, "type": "quantitative", "scale": {"domain": [0, 0.2503], "nice": false, "zero": false}, "axis": null}, "text": {"value": ", GeV/"}}},
        {"data": {"values": [{}]}, "mark": {"type": "text", "fontStyle": "italic"},
          "encoding": {"x": {"datum": 1.02, "type": "quantitative", "scale": {"domain": [0, 1.677], "nice": false, "zero": false}, "axis": null}, "y": {"datum": -0.0322, "type": "quantitative", "scale": {"domain": [0, 0.2503], "nice": false, "zero": false}, "axis": null}, "text": {"value": "c"}}}
      ]
    }
  ]
}
